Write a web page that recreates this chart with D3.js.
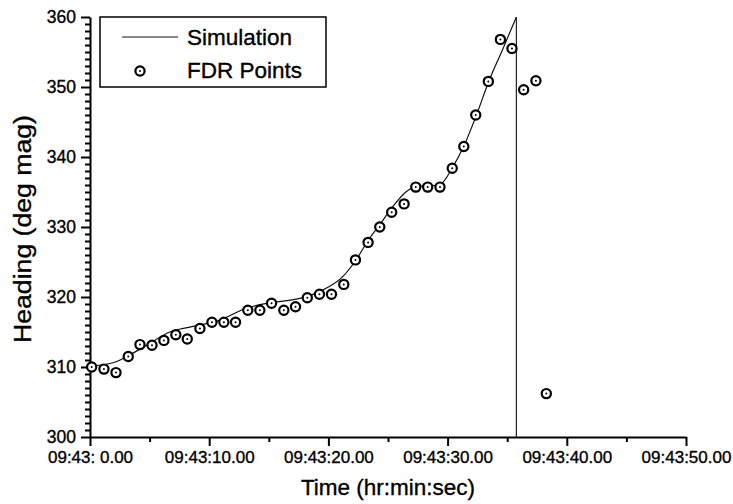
<!DOCTYPE html>
<html>
<head>
<meta charset="utf-8">
<script src="https://cdn.jsdelivr.net/npm/d3@7"></script>
<style>
  html, body { margin: 0; padding: 0; background: #fff; }
  svg { display: block; font-family: "Liberation Sans", Arial, Helvetica, sans-serif; }
  text { stroke: #000; stroke-width: 0.35px; }
</style>
</head>
<body>
<svg id="chart" width="733" height="504"></svg>
<script>
// ---- Data (seconds after 09:43:00, heading in deg mag) ----
const simTime    = [0, 1.93, 3.19, 4.75, 6.7, 8.38, 10.9, 13.1, 14.8, 17.6, 19.3, 21.2, 22.4, 23.3, 24.3, 25.4, 26.5, 27.4, 29.3, 30.45, 31.4, 32.4, 33.5, 34.6, 35.77];
const simHeading = [310.1, 310.6, 311.6, 313.1, 315.0, 315.7, 316.7, 318.4, 319.1, 319.8, 320.8, 322.9, 325.5, 328.0, 330.3, 332.9, 335.0, 335.8, 336.0, 338.6, 341.7, 345.9, 351.0, 355.3, 360.0];
// after passing 360 the simulated heading wraps to 0
const wrapTime    = [35.77, 35.77];
const wrapHeading = [360, 0];

const fdrTime    = [0.14, 1.17, 2.18, 3.21, 4.19, 5.2, 6.2, 7.2, 8.16, 9.22, 10.23, 11.23, 12.21, 13.24, 14.25, 15.23, 16.26, 17.24, 18.23, 19.25, 20.26, 21.29, 22.27, 23.33, 24.31, 25.31, 26.35, 27.33, 28.33, 29.36, 30.39, 31.36, 32.36, 33.42, 34.43, 35.40, 36.38, 37.41, 38.28];
const fdrHeading = [310.0, 309.7, 309.2, 311.5, 313.2, 313.1, 313.8, 314.6, 314.0, 315.5, 316.4, 316.4, 316.4, 318.1, 318.1, 319.1, 318.1, 318.6, 319.9, 320.4, 320.4, 321.8, 325.3, 327.8, 330.0, 332.1, 333.3, 335.7, 335.7, 335.7, 338.4, 341.5, 346.0, 350.8, 356.8, 355.5, 349.6, 350.9, 306.2];

const xTicks      = [0, 10, 20, 30, 40, 50];
const xTickLabels = ["09:43: 0.00", "09:43:10.00", "09:43:20.00", "09:43:30.00", "09:43:40.00", "09:43:50.00"];
const xMinorTicks = [5, 15, 25, 35, 45];
const yTicks      = [300, 310, 320, 330, 340, 350, 360];
const legendLabels = ["Simulation", "FDR Points"];
const xTitle = "Time (hr:min:sec)";
const yTitle = "Heading (deg mag)";

// ---- Layout ----
const svg = d3.select("#chart");
const pL = 90, pR = 686, pT = 17, pB = 437;

const x = d3.scaleLinear().domain([0, 50]).range([pL, pR]);
const y = d3.scaleLinear().domain([300, 360]).range([pB, pT]);

svg.append("defs").append("clipPath").attr("id", "clip")
  .append("rect").attr("x", pL).attr("y", pT).attr("width", pR - pL).attr("height", pB - pT);

// ---- Axes ----
const tickLabelMap = new Map(xTicks.map((t, i) => [t, xTickLabels[i]]));

const xAxis = svg.append("g").attr("transform", `translate(0,${pB})`)
  .call(d3.axisBottom(x).tickValues(xTicks).tickSize(9).tickSizeOuter(0).tickPadding(5)
        .tickFormat(d => tickLabelMap.get(d)));
svg.append("g").attr("transform", `translate(0,${pB})`)
  .call(d3.axisBottom(x).tickValues(xMinorTicks).tickSize(5).tickFormat(""))
  .call(g => g.select(".domain").remove());

const yAxis = svg.append("g").attr("transform", `translate(${pL},0)`)
  .call(d3.axisLeft(y).tickValues(yTicks).tickSize(9).tickSizeOuter(0).tickPadding(5)
        .tickFormat(d3.format("d")));
const minorY = d3.range(300, 361, 1).filter(v => v % 10 !== 0);
svg.append("g").attr("transform", `translate(${pL},0)`)
  .call(d3.axisLeft(y).tickValues(minorY).tickSize(5).tickFormat(""))
  .call(g => g.select(".domain").remove());

svg.selectAll(".domain").attr("stroke", "#000").attr("stroke-width", 2);
svg.selectAll(".tick line").attr("stroke", "#000").attr("stroke-width", 2);
xAxis.selectAll(".tick text").attr("font-size", 17).attr("fill", "#000");
yAxis.selectAll(".tick text").attr("font-size", 17.5).attr("fill", "#000");
svg.selectAll(".tick text").attr("font-family", "'Liberation Sans', Arial, Helvetica, sans-serif");

// ---- Axis titles ----
svg.append("text").attr("x", 388).attr("y", 495)
  .attr("text-anchor", "middle").attr("font-size", 22.5).attr("fill", "#000").text(xTitle);
svg.append("text")
  .attr("transform", `translate(31,${(pT + pB) / 2 + 2}) rotate(-90)`)
  .attr("text-anchor", "middle").attr("font-size", 23).attr("fill", "#000")
  .attr("textLength", 228).attr("lengthAdjust", "spacingAndGlyphs").text(yTitle);

// ---- Simulation line ----
const plot = svg.append("g").attr("clip-path", "url(#clip)");
const simData = simTime.map((t, i) => [t, simHeading[i]]);
const line = d3.line().x(d => x(d[0])).y(d => y(d[1]));
plot.append("path").datum(simData)
  .attr("d", line.curve(d3.curveMonotoneX))
  .attr("fill", "none").attr("stroke", "#111").attr("stroke-width", 1.2);
const wrapData = wrapTime.map((t, i) => [t, wrapHeading[i]]);
plot.append("path").datum(wrapData)
  .attr("d", d3.line().x(d => x(d[0])).y(d => y(d[1])))
  .attr("fill", "none").attr("stroke", "#222").attr("stroke-width", 1.2);

// ---- FDR points ----
const fdrData = fdrTime.map((t, i) => [t, fdrHeading[i]]);
function marker(g, cx, cy) {
  g.append("circle").attr("cx", cx).attr("cy", cy).attr("r", 4.6)
    .attr("fill", "#fff").attr("stroke", "#000").attr("stroke-width", 2.2);
  g.append("circle").attr("cx", cx).attr("cy", cy).attr("r", 1).attr("fill", "#000");
}
const pts = svg.append("g");
fdrData.forEach(d => marker(pts, x(d[0]), y(d[1])));

// ---- Legend ----
const lg = svg.append("g");
lg.append("rect").attr("x", 100).attr("y", 17).attr("width", 226).attr("height", 70)
  .attr("fill", "#fff").attr("stroke", "#000").attr("stroke-width", 1.5);
lg.append("line").attr("x1", 122).attr("x2", 178).attr("y1", 37).attr("y2", 37)
  .attr("stroke", "#111").attr("stroke-width", 1.2);
marker(lg, 140, 71);
lg.append("text").attr("x", 187).attr("y", 45).attr("font-size", 22.5).attr("fill", "#000").text(legendLabels[0]);
lg.append("text").attr("x", 187).attr("y", 78).attr("font-size", 22.5).attr("fill", "#000").text(legendLabels[1]);
</script>
</body>
</html>
